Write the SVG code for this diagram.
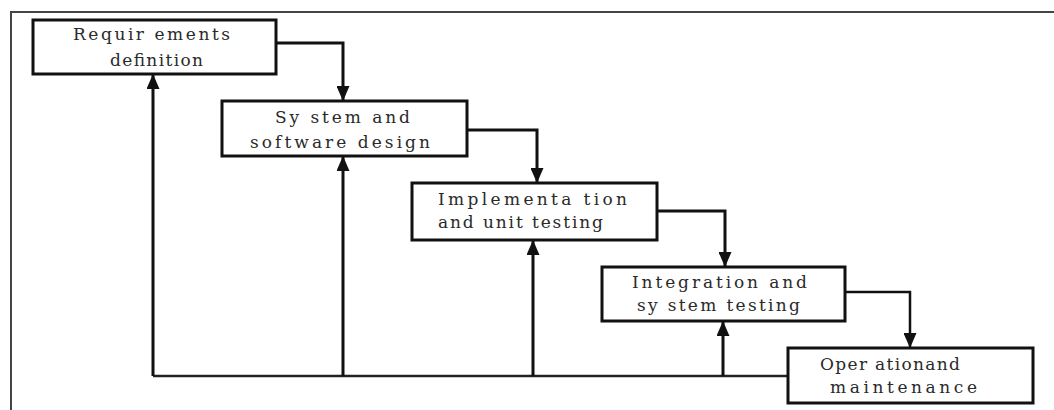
<svg xmlns="http://www.w3.org/2000/svg" width="1054" height="410" viewBox="0 0 1054 410">
  <style>
    .box { fill: #ffffff; stroke: #111111; stroke-width: 3; }
    .lbl { font-family: 'DejaVu Serif', 'Liberation Serif', serif; font-size: 17px; fill: #2a2a2a; }
    .flow { fill: none; stroke: #111111; stroke-width: 3; }
    .base { fill: none; stroke: #222222; stroke-width: 2.5; }
    .frame { fill: none; stroke: #444444; stroke-width: 2; }
  </style>
  <defs>
    <marker id="arrow" viewBox="0 0 15 13" refX="15" refY="6.5" markerWidth="15" markerHeight="13" markerUnits="userSpaceOnUse" orient="auto">
      <path d="M0,0 L15,6.5 L0,13 Z" fill="#111111"/>
    </marker>
  </defs>
  <rect width="1054" height="410" fill="#ffffff"/>

  <!-- outer frame (top and left edges) -->
  <path class="frame" d="M11,420 L11,12 L1060,12"/>

  <!-- connectors -->
  <g id="connectors">
    <!-- forward flow -->
    <path class="flow" d="M276,43 L343,43 L343,101" marker-end="url(#arrow)"/>
    <path class="flow" d="M467,130 L537,130 L537,183" marker-end="url(#arrow)"/>
    <path class="flow" d="M657,211 L725,211 L725,267" marker-end="url(#arrow)"/>
    <path class="flow" style="stroke-width:2.5" d="M845,292 L910,292 L910,348" marker-end="url(#arrow)"/>
    <!-- feedback rail -->
    <path class="base" d="M153,376 L788,376"/>
    <path class="flow" d="M153,376 L153,74" marker-end="url(#arrow)"/>
    <path class="flow" d="M343,376 L343,156" marker-end="url(#arrow)"/>
    <path class="flow" d="M533,376 L533,240" marker-end="url(#arrow)"/>
    <path class="flow" d="M723,376 L723,321" marker-end="url(#arrow)"/>
  </g>

  <g id="requirements">
    <rect class="box" x="33" y="20" width="243" height="54"/>
    <text class="lbl" x="73" y="40" textLength="157" lengthAdjust="spacing">Requir ements</text>
    <text class="lbl" x="110" y="66" textLength="93" lengthAdjust="spacing">definition</text>
  </g>

  <g id="design">
    <rect class="box" x="222" y="101" width="245" height="55"/>
    <text class="lbl" x="275" y="123" textLength="135" lengthAdjust="spacing">Sy stem and</text>
    <text class="lbl" x="250" y="148" textLength="180" lengthAdjust="spacing">software design</text>
  </g>

  <g id="implementation">
    <rect class="box" x="412" y="183" width="245" height="57"/>
    <text class="lbl" x="438" y="205" textLength="189" lengthAdjust="spacing">Implementa tion</text>
    <text class="lbl" x="438" y="228" textLength="165" lengthAdjust="spacing">and unit testing</text>
  </g>

  <g id="integration">
    <rect class="box" x="602" y="267" width="243" height="54"/>
    <text class="lbl" x="632" y="288" textLength="175" lengthAdjust="spacing">Integration and</text>
    <text class="lbl" x="637" y="311" textLength="163" lengthAdjust="spacing">sy stem testing</text>
  </g>

  <g id="operation">
    <rect class="box" x="788" y="348" width="245" height="55"/>
    <text class="lbl" x="820" y="370" textLength="140" lengthAdjust="spacing">Oper ationand</text>
    <text class="lbl" x="830" y="393" textLength="147" lengthAdjust="spacing">maintenance</text>
  </g>
</svg>
